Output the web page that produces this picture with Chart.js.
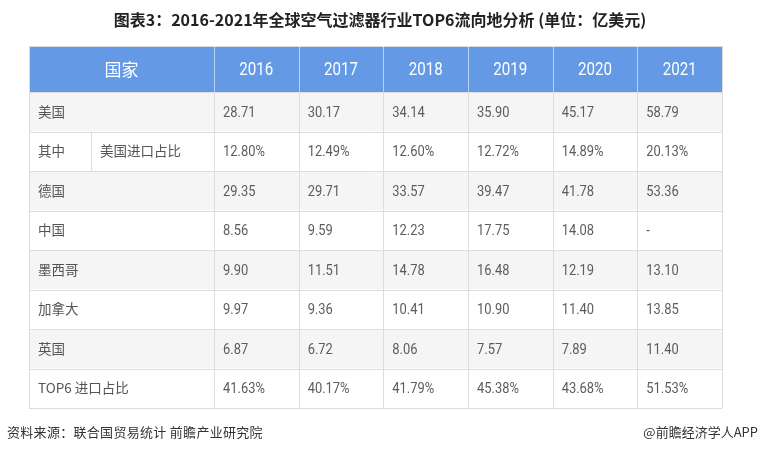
<!DOCTYPE html>
<html>
<head>
<meta charset="utf-8">
<script src="https://cdn.jsdelivr.net/npm/chart.js@4"></script>
<style>
  html, body { margin: 0; padding: 0; background: #fff; }
  canvas { display: block; }
</style>
</head>
<body>
<canvas id="table" width="760" height="452"></canvas>
<script>
// data
const years = ['2016', '2017', '2018', '2019', '2020', '2021'];
const rowNames = ['美国', '其中', '德国', '中国', '墨西哥', '加拿大', '英国', 'TOP6 进口占比'];
const subLabel = '美国进口占比';

const usa       = [28.71, 30.17, 34.14, 35.90, 45.17, 58.79];
const usaShare  = [12.80, 12.49, 12.60, 12.72, 14.89, 20.13];
const germany   = [29.35, 29.71, 33.57, 39.47, 41.78, 53.36];
const china     = [8.56, 9.59, 12.23, 17.75, 14.08, null];
const mexico    = [9.90, 11.51, 14.78, 16.48, 12.19, 13.10];
const canada    = [9.97, 9.36, 10.41, 10.90, 11.40, 13.85];
const uk        = [6.87, 6.72, 8.06, 7.57, 7.89, 11.40];
const top6Share = [41.63, 40.17, 41.79, 45.38, 43.68, 51.53];

const rowValues = [usa, usaShare, germany, china, mexico, canada, uk, top6Share];
const percentRows = [1, 7];

const titleText = '图表3：2016-2021年全球空气过滤器行业TOP6流向地分析 (单位：亿美元)';
const sourceText = '资料来源：联合国贸易统计 前瞻产业研究院';
const brandText = '@前瞻经济学人APP';

// layout (in table units: one year column wide, one body row high)
const FIRST_COL = 2.185;
const SUB_COL = 0.732;
const HEAD_H = 1.165;
const X_MAX = FIRST_COL + years.length;
const Y_MAX = HEAD_H + rowNames.length;
const PAD = 9;

const HEADER_BG = '#6399e5';
const STRIPE_BG = '#f5f5f5';
const LINE = '#dddddd';
const TEXT = '#555555';
const CJK = '"Noto Sans CJK SC"';
const NUM = 'Roboto, "Noto Sans CJK SC"';

function fmt(v, pct) {
  if (v === null) return '-';
  return v.toFixed(2) + (pct ? '%' : '');
}

const datasets = rowValues.map((vals, i) => ({
  label: rowNames[i],
  texts: vals.map(v => fmt(v, percentRows.includes(i))),
  data: vals.map((v, j) => ({ x: FIRST_COL + j, y: HEAD_H + i + 0.5 }))
}));
datasets.push({
  label: 'header',
  texts: years,
  data: years.map((yr, j) => ({ x: FIRST_COL + j + 0.5, y: HEAD_H / 2 }))
});

function squeezeText(ctx, text, x, y, sx, align) {
  ctx.save();
  ctx.translate(x, y);
  ctx.scale(sx, 1);
  ctx.textAlign = align;
  ctx.fillText(text, 0, 0);
  ctx.restore();
}

const tablePlugin = {
  id: 'tableCells',
  beforeDatasetsDraw(chart) {
    const { ctx, scales: { x, y } } = chart;
    const L = x.getPixelForValue(0), R = x.getPixelForValue(X_MAX);
    const T = y.getPixelForValue(0), B = y.getPixelForValue(Y_MAX);
    const H = y.getPixelForValue(HEAD_H);

    ctx.save();
    ctx.fillStyle = HEADER_BG;
    ctx.fillRect(L, T, R - L, H - T);
    rowNames.forEach((r, i) => {
      const t = y.getPixelForValue(HEAD_H + i), b = y.getPixelForValue(HEAD_H + i + 1);
      ctx.fillStyle = i % 2 === 0 ? STRIPE_BG : '#ffffff';
      ctx.fillRect(L, t, R - L, b - t);
    });

    ctx.lineWidth = 1;
    // horizontal lines
    ctx.strokeStyle = LINE;
    for (let i = 0; i <= rowNames.length; i++) {
      const yy = Math.round(y.getPixelForValue(HEAD_H + i)) + 0.5;
      ctx.beginPath(); ctx.moveTo(L, yy); ctx.lineTo(R, yy); ctx.stroke();
    }
    const topY = Math.round(T) + 0.5;
    ctx.beginPath(); ctx.moveTo(L, topY); ctx.lineTo(R, topY); ctx.stroke();

    // vertical lines in body
    const edges = [0].concat(years.map((yr, j) => FIRST_COL + j), [X_MAX]);
    edges.forEach(e => {
      const xx = Math.round(x.getPixelForValue(e)) + 0.5;
      ctx.strokeStyle = LINE;
      ctx.beginPath(); ctx.moveTo(xx, H); ctx.lineTo(xx, B); ctx.stroke();
      ctx.strokeStyle = (e === 0 || e === X_MAX) ? LINE : 'rgba(255,255,255,0.55)';
      ctx.beginPath(); ctx.moveTo(xx, T); ctx.lineTo(xx, H); ctx.stroke();
    });
    // sub column only in the "其中" row
    const sx = Math.round(x.getPixelForValue(SUB_COL)) + 0.5;
    ctx.strokeStyle = LINE;
    ctx.beginPath();
    ctx.moveTo(sx, y.getPixelForValue(HEAD_H + 1));
    ctx.lineTo(sx, y.getPixelForValue(HEAD_H + 2));
    ctx.stroke();
    ctx.restore();
  },
  afterDatasetsDraw(chart) {
    const { ctx, scales: { x, y } } = chart;
    ctx.save();
    ctx.textBaseline = 'middle';

    // header
    ctx.fillStyle = '#ffffff';
    ctx.font = '17px ' + CJK;
    ctx.textAlign = 'center';
    ctx.fillText('国家', x.getPixelForValue(FIRST_COL / 2), y.getPixelForValue(HEAD_H / 2) + 1);
    const hMeta = chart.getDatasetMeta(datasets.length - 1);
    ctx.font = '18px ' + NUM;
    hMeta.data.forEach((pt, j) => squeezeText(ctx, years[j], pt.x, pt.y + 1, 0.84, 'center'));

    // row labels
    ctx.fillStyle = TEXT;
    ctx.font = '13.5px ' + CJK;
    ctx.textAlign = 'left';
    rowNames.forEach((name, i) => {
      const yy = y.getPixelForValue(HEAD_H + i + 0.5);
      ctx.fillText(name, x.getPixelForValue(0) + PAD, yy);
    });
    ctx.fillText(subLabel, x.getPixelForValue(SUB_COL) + PAD, y.getPixelForValue(HEAD_H + 1.5));

    // values
    ctx.fillStyle = '#5c5c5c';
    ctx.font = '15px ' + NUM;
    datasets.slice(0, rowValues.length).forEach((ds, i) => {
      const meta = chart.getDatasetMeta(i);
      meta.data.forEach((pt, j) => squeezeText(ctx, ds.texts[j], pt.x + PAD, pt.y + 1, 0.86, 'left'));
    });
    ctx.restore();
  },
  afterDraw(chart) {
    const { ctx, width } = chart;
    ctx.save();
    ctx.textBaseline = 'middle';
    ctx.fillStyle = '#222222';
    ctx.font = 'bold 16px ' + CJK;
    ctx.textAlign = 'center';
    ctx.fillText(titleText, width / 2, 20);

    ctx.fillStyle = '#333333';
    ctx.font = '13px ' + CJK;
    ctx.letterSpacing = '0.3px';
    ctx.textAlign = 'left';
    ctx.fillText(sourceText, 7, 432);
    ctx.letterSpacing = '0px';
    ctx.textAlign = 'right';
    ctx.fillText(brandText, 758, 432);
    ctx.restore();
  }
};

new Chart(document.getElementById('table'), {
  type: 'scatter',
  data: { datasets },
  options: {
    responsive: false,
    animation: false,
    devicePixelRatio: 1,
    events: [],
    layout: { padding: { left: 29, right: 38, top: 46, bottom: 44 } },
    elements: { point: { radius: 0, hoverRadius: 0 } },
    scales: {
      x: { type: 'linear', min: 0, max: X_MAX, display: false },
      y: { type: 'linear', min: 0, max: Y_MAX, reverse: true, display: false }
    },
    plugins: { legend: { display: false }, tooltip: { enabled: false }, title: { display: false } }
  },
  plugins: [tablePlugin]
});
</script>
</body>
</html>
